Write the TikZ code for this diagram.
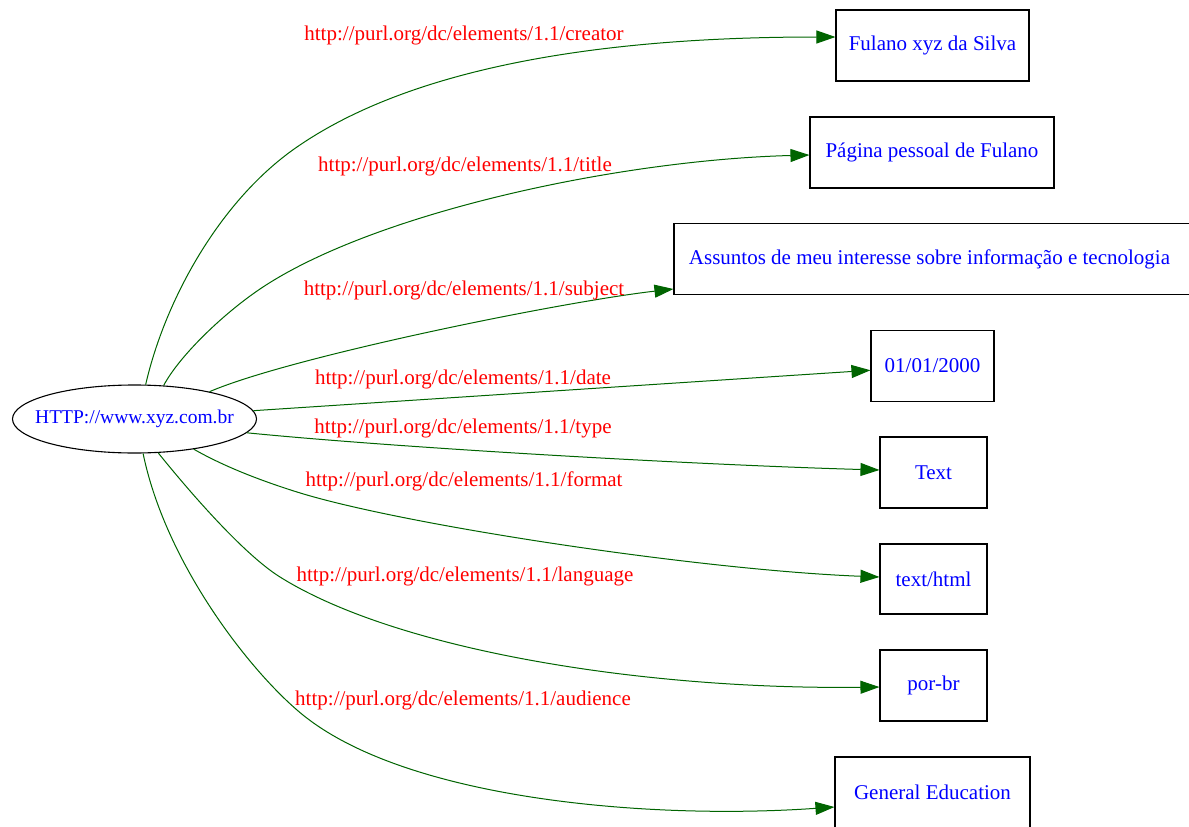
\documentclass[tikz,border=0pt]{standalone}
\usepackage{fontspec}
\setmainfont{Liberation Serif}
\usetikzlibrary{shapes.geometric,arrows.meta}
\definecolor{edgegreen}{HTML}{006400}
\begin{document}
\begin{tikzpicture}[x=1pt,y=-1pt,
  every node/.style={font=\fontsize{21}{25}\selectfont},
  box/.style={draw=black,line width=1.1pt,rectangle,inner sep=0pt,text=blue,minimum height=71pt},
  lbl/.style={text=red,inner sep=0pt},
  conn/.style={draw=edgegreen,line width=1pt,-{Triangle[length=19pt,width=13pt]}},
]
\useasboundingbox (0,0) rectangle (1189,827);
\fill[white] (0,0) rectangle (1189,827);

\node[draw,ellipse,minimum width=244pt,minimum height=68pt,inner sep=0pt,line width=1.1pt] (e) at (134.5,419) {};
\node[text=blue,inner sep=0pt,font=\fontsize{19.5}{23}\selectfont] (et) at (e.center) {HTTP://www.xyz.com.br};

\node[box,minimum width=193pt] (n1) at (932.5,45.5) {Fulano xyz da Silva};
\node[box,minimum width=244pt] (n2) at (932,152.5) {Página pessoal de Fulano};
\node[box,minimum width=518pt] (n3) at (933,259) {\hspace*{-7pt}Assuntos de meu interesse sobre informação e tecnologia};
\node[box,minimum width=123pt] (n4) at (932.5,365.75) {01/01/2000};
\node[box,minimum width=107pt] (n5) at (933.5,472.5) {Text};
\node[box,minimum width=107pt,minimum height=70pt] (n6) at (933.5,579) {text/html};
\node[box,minimum width=107pt] (n7) at (933.5,685.5) {por-br};
\node[box,minimum width=195pt] (n8) at (932.5,792.5) {General Education};

\draw[conn] (e.72.8) .. controls (165,300) and (220,200) .. (297,147) .. controls (420,62) and (620,37) .. ([yshift=8.5pt]n1.west);
\draw[conn] (e.49.2) .. controls (180,355) and (225,312) .. (263,287) .. controls (377,212) and (620,160) .. ([yshift=-2.5pt]n2.west);
\draw[conn] (e.20.6) .. controls (290,357) and (560,302) .. ([yshift=-30pt]n3.west);
\draw[conn] (e.4.4) -- ([yshift=-4.5pt]n4.west);
\draw[conn] (e.-7.2) .. controls (400,448) and (700,465) .. ([yshift=2.5pt]n5.west);
\draw[conn] (e.-27) .. controls (225,467) and (262,481) .. (297,492) .. controls (402,525) and (700,570) .. ([yshift=2pt]n6.west);
\draw[conn] (e.-55) .. controls (180,480) and (240,552) .. (280,577) .. controls (400,652) and (650,690) .. ([yshift=-1.5pt]n7.west);
\draw[conn] (e.-76) .. controls (165,560) and (245,665) .. (297,710) .. controls (400,800) and (650,820) .. ([yshift=-14.5pt]n8.west);

\node[lbl] (l1) at (464,35) {http://purl.org/dc/elements/1.1/creator};
\node[lbl] (l2) at (465,166) {http://purl.org/dc/elements/1.1/title};
\node[lbl] (l3) at (464,290) {http://purl.org/dc/elements/1.1/subject};
\node[lbl] (l4) at (463,379) {http://purl.org/dc/elements/1.1/date};
\node[lbl] (l5) at (463,428) {http://purl.org/dc/elements/1.1/type};
\node[lbl] (l6) at (464,481) {http://purl.org/dc/elements/1.1/format};
\node[lbl] (l7) at (465,576) {http://purl.org/dc/elements/1.1/language};
\node[lbl] (l8) at (463,700) {http://purl.org/dc/elements/1.1/audience};
\end{tikzpicture}
\end{document}
